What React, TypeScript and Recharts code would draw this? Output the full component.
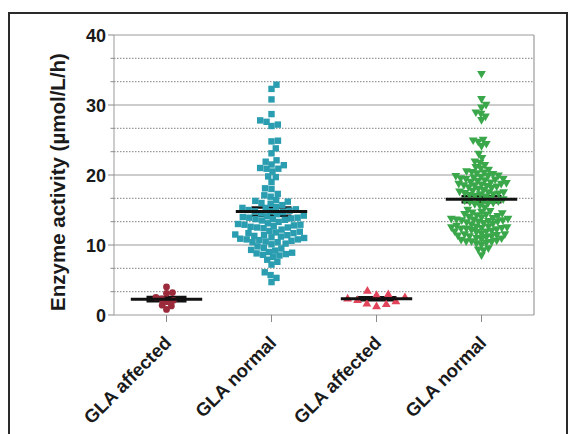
import { ScatterChart, Scatter, XAxis, YAxis, CartesianGrid, ReferenceLine, ErrorBar } from 'recharts'

// group labels, left to right
const CATEGORIES = ['GLA affected', 'GLA normal', 'GLA affected', 'GLA normal']

// enzyme activity per subject (µmol/L/h)
const affectedA = [4.0, 3.2, 3.1, 2.5, 2.3, 2.1, 1.9, 1.4, 1.3, 0.8]

const normalA = [
  32.9, 32.3, 30.8, 28.7, 27.8, 27.6, 27.2, 27.0, 24.9, 24.8, 23.8, 23.1,
  22.1, 21.9, 21.5, 21.4, 21.0, 20.9, 20.9, 20.5, 19.8, 19.7, 19.0, 18.1,
  18.0, 17.3, 17.1, 16.9, 16.4, 16.3, 16.2, 16.0, 15.9, 15.7,
  15.4, 15.3, 15.3, 15.1, 15.0, 14.9, 14.8, 14.8, 14.7, 14.5, 14.4,
  14.2, 14.1, 14.0, 13.9, 13.9, 13.8, 13.7, 13.7, 13.6, 13.5, 13.3,
  13.1, 13.0, 12.9, 12.9, 12.8, 12.7, 12.6, 12.5, 12.5, 12.4, 12.2,
  12.0, 11.9, 11.8, 11.7, 11.7, 11.5, 11.4, 11.4, 11.3, 11.2, 11.1,
  11.0, 10.9, 10.8, 10.8, 10.7, 10.6, 10.5, 10.4, 10.4, 10.2, 10.1,
  9.8, 9.6, 9.5, 9.3, 9.2, 9.0, 8.9, 8.8, 8.7, 8.6, 8.5, 8.3,
  7.9, 7.6, 7.2, 6.1, 5.7, 5.3, 4.7,
]

const affectedB = [3.5, 3.0, 2.9, 2.6, 2.4, 2.2, 2.0, 1.7, 1.6, 1.3]

const normalB = [
  34.4, 30.8, 30.0, 29.6, 28.9, 28.7, 28.3, 27.8, 25.0, 24.9, 24.7, 24.4,
  24.1, 23.0, 22.4, 21.9, 21.7, 21.4, 21.1, 20.9, 20.7, 20.5, 20.4, 20.3,
  20.2, 20.1,
  19.9, 19.8, 19.8, 19.7, 19.6, 19.5, 19.4, 19.4, 19.3, 19.2, 19.1, 19.0,
  18.9, 18.8, 18.7, 18.7, 18.6, 18.5, 18.5, 18.4, 18.3, 18.2, 18.1, 18.0,
  17.8, 17.7, 17.6, 17.5, 17.5, 17.4, 17.3, 17.2, 17.2, 17.1, 17.0, 16.9,
  16.6, 16.5, 16.4, 16.3, 16.2, 16.2, 16.1, 16.0, 15.9, 15.8, 15.6,
  15.3, 15.0, 14.8, 14.7, 14.6, 14.5, 14.4, 14.3, 14.2, 14.1, 14.0,
  13.9, 13.8, 13.7, 13.7, 13.6, 13.6, 13.5, 13.5, 13.4, 13.3, 13.3, 13.2, 13.1, 13.0, 12.9,
  12.7, 12.6, 12.6, 12.5, 12.5, 12.4, 12.4, 12.3, 12.3, 12.2, 12.1, 12.0, 11.9, 11.9, 11.8,
  11.6, 11.5, 11.5, 11.4, 11.3, 11.2, 11.2, 11.1, 11.0, 10.9, 10.8, 10.7, 10.6,
  10.5, 10.5, 10.4, 10.3, 10.2,
  10.0, 9.5, 9.3, 9.2, 8.5,
]

const MAJOR_TICKS = [0, 10, 20, 30, 40]
const MINOR_TICKS = [3.33, 6.67, 13.33, 16.67, 23.33, 26.67, 33.33, 36.67]

const W = 560
const H = 426
const PLOT_W = 420
const PLOT_H = 280
const FONT = "'Liberation Sans', Arial, sans-serif"

// pixels per data unit, used to lay the beeswarm out without overlaps
const X_PX = PLOT_W / 4
const Y_PX = PLOT_H / 40
const MEAN_HALF = 0.34 * X_PX

function swarm(values: number[], group: number, d: number) {
  const placed: { px: number; py: number }[] = []
  const sorted = [...values].sort((a, b) => a - b)
  return sorted.map(v => {
    const py = v * Y_PX
    const cands = [0]
    for (const p of placed) {
      const dy = Math.abs(p.py - py)
      if (dy < d) {
        const dx = Math.sqrt(d * d - dy * dy)
        cands.push(p.px + dx, p.px - dx)
      }
    }
    cands.sort((a, b) => Math.abs(a) - Math.abs(b))
    const px = cands.find(c => placed.every(p => (p.px - c) ** 2 + (p.py - py) ** 2 >= d * d - 0.01)) ?? 0
    placed.push({ px, py })
    return { x: group + px / X_PX, y: v }
  })
}

function stats(values: number[], group: number) {
  const n = values.length
  const mean = values.reduce((s, v) => s + v, 0) / n
  const sd = Math.sqrt(values.reduce((s, v) => s + (v - mean) ** 2, 0) / (n - 1))
  return { x: group, y: mean, err: sd / Math.sqrt(n) }
}

const groups = [
  { values: affectedA, color: '#9b2a3b', kind: 'circle', gap: 6 },
  { values: normalA, color: '#2a9db0', kind: 'square', gap: 6.5 },
  { values: affectedB, color: '#e2455b', kind: 'up', gap: 10 },
  { values: normalB, color: '#3aa84a', kind: 'down', gap: 5.3 },
]

const makeShape = (kind: string, color: string) => (p: any) => {
  const { cx, cy } = p
  if (kind === 'circle') return <circle cx={cx} cy={cy} r={3.4} fill={color} />
  if (kind === 'square') return <rect x={cx - 3.2} y={cy - 3.2} width={6.4} height={6.4} fill={color} />
  if (kind === 'up')
    return <polygon points={`${cx},${cy - 4.4} ${cx + 4.4},${cy + 3.3} ${cx - 4.4},${cy + 3.3}`} fill={color} />
  return <polygon points={`${cx},${cy + 4.4} ${cx + 4.4},${cy - 3.3} ${cx - 4.4},${cy - 3.3}`} fill={color} />
}

const meanShape = (p: any) => (
  <line x1={p.cx - MEAN_HALF} x2={p.cx + MEAN_HALF} y1={p.cy} y2={p.cy} stroke="#111" strokeWidth={3} />
)

const YTick = ({ x, y, payload }: any) => {
  const major = MAJOR_TICKS.includes(payload.value)
  return (
    <g>
      <line x1={x - (major ? 6 : 3.5)} x2={x} y1={y} y2={y} stroke="#8a8a8a" strokeWidth={1} />
      {major && (
        <text x={x - 8} y={y} dy={6.5} textAnchor="end" fontSize={18} fontWeight="bold" fontFamily={FONT} fill="#1a1a1a">
          {payload.value}
        </text>
      )}
    </g>
  )
}

const XTick = ({ x, y, payload }: any) => (
  <text
    transform={`translate(${x + 6},${y + 20}) rotate(-45)`}
    textAnchor="end"
    fontSize={18.5}
    fontWeight="bold"
    fontFamily={FONT}
    fill="#1a1a1a"
  >
    {CATEGORIES[payload.value - 1]}
  </text>
)

const YLabel = ({ viewBox }: any) => {
  const cx = viewBox.x + 57
  const cy = viewBox.y + viewBox.height / 2 + 7
  return (
    <text
      transform={`translate(${cx},${cy}) rotate(-90)`}
      textAnchor="middle"
      fontSize={20.5}
      fontWeight="bold"
      fontFamily={FONT}
      fill="#1a1a1a"
    >
      Enzyme activity (µmol/L/h)
    </text>
  )
}

export default function App() {
  return (
    <div style={{ position: 'relative', width: W, height: H, background: '#fff' }}>
      <div
        style={{
          position: 'absolute',
          left: 0,
          top: 4,
          width: 556,
          height: 440,
          borderTop: '2px solid #2a2a2a',
          borderLeft: '2px solid #2a2a2a',
          borderRight: '2px solid #2a2a2a',
        }}
      />
      <div style={{ position: 'absolute', left: 0, top: 0 }}>
        <ScatterChart width={W} height={H} margin={{ top: 27, right: 34, left: 0, bottom: 0 }}>
          <CartesianGrid
            horizontalValues={[10, 20, 30, 40]}
            verticalValues={[4.5]}
            stroke="#9a9a9a"
            strokeWidth={1.2}
          />
          {MINOR_TICKS.map(v => (
            <ReferenceLine key={v} y={v} stroke="#7f7f7f" strokeDasharray="1.5 1.5" strokeWidth={1} />
          ))}
          <XAxis
            type="number"
            dataKey="x"
            domain={[0.5, 4.5]}
            ticks={[1, 2, 3, 4]}
            interval={0}
            height={119}
            tickSize={7}
            tickMargin={2}
            stroke="#9a9a9a"
            tickLine={{ stroke: '#8a8a8a' }}
            tick={<XTick />}
            allowDataOverflow
          />
          <YAxis
            type="number"
            dataKey="y"
            domain={[0, 40]}
            ticks={[...MAJOR_TICKS, ...MINOR_TICKS].sort((a, b) => a - b)}
            interval={0}
            width={106}
            tickSize={0}
            tickMargin={0}
            tickLine={false}
            stroke="#9a9a9a"
            tick={<YTick />}
            label={<YLabel />}
            allowDataOverflow
          />
          {groups.map((g, i) => (
            <Scatter
              key={i}
              data={swarm(g.values, i + 1, g.gap)}
              shape={makeShape(g.kind, g.color)}
              isAnimationActive={false}
            />
          ))}
          <Scatter
            data={groups.map((g, i) => stats(g.values, i + 1))}
            shape={meanShape}
            isAnimationActive={false}
          >
            <ErrorBar dataKey="err" direction="y" width={20} stroke="#111" strokeWidth={2.5} />
          </Scatter>
        </ScatterChart>
      </div>
    </div>
  )
}
